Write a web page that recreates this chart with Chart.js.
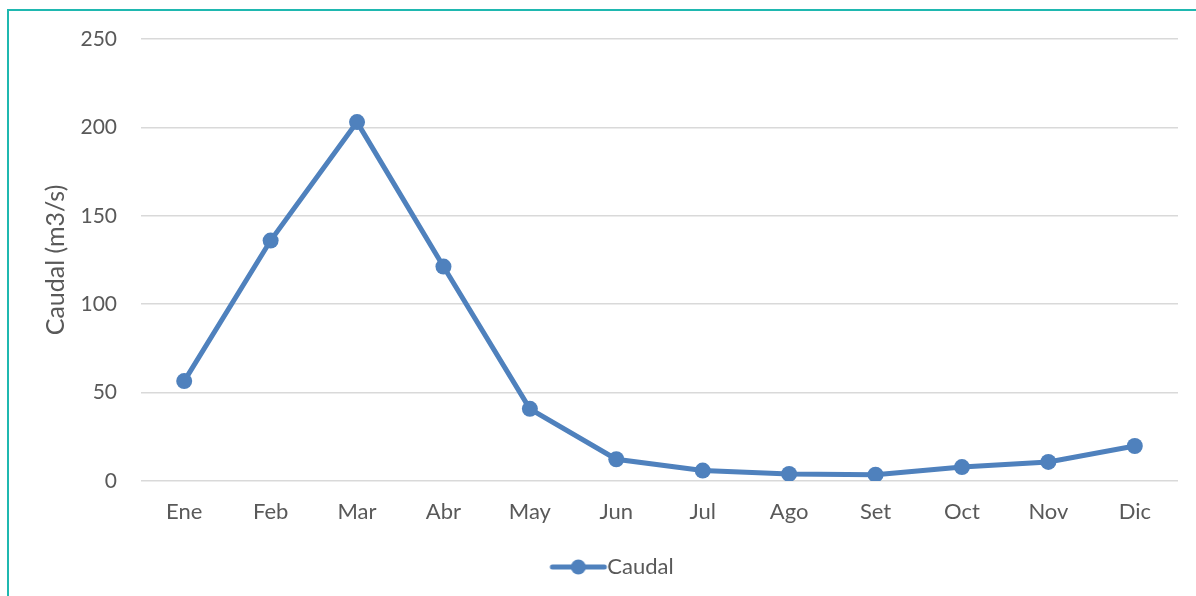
<!DOCTYPE html>
<html>
<head>
<meta charset="utf-8">
<script src="https://cdn.jsdelivr.net/npm/chart.js@4/dist/chart.umd.min.js"></script>
<style>
  html, body { margin: 0; padding: 0; background: #ffffff; }
  #wrap { position: relative; width: 1196px; height: 596px; overflow: hidden; }
  #frame { position: absolute; left: 7px; top: 9px; width: 1300px; height: 700px;
           border-left: 2px solid #1fb8b0; border-top: 2px solid #1fb8b0; box-sizing: border-box; pointer-events: none; }
  canvas { position: absolute; left: 0; top: 0; }
</style>
</head>
<body>
<div id="wrap">
  <canvas id="chart" width="1196" height="596"></canvas>
  <div id="frame"></div>
</div>
<script>
// Monthly mean discharge
const months = ['Ene', 'Feb', 'Mar', 'Abr', 'May', 'Jun', 'Jul', 'Ago', 'Set', 'Oct', 'Nov', 'Dic'];
const caudal = [56.5, 136, 203, 121.3, 40.8, 12.3, 5.9, 4.0, 3.6, 7.9, 10.8, 19.8];
const seriesName = 'Caudal';
const yTitle = 'Caudal (m3/s)';
const yTicks = [0, 50, 100, 150, 200, 250];

const blue = '#4f81bd';
const textGrey = '#595959';
const fontFamily = 'Lato, "Open Sans", sans-serif';

// legend marker: short line with a dot in the middle (left margin keeps the text close)
function legendMarker() {
  const c = document.createElement('canvas');
  c.width = 80; c.height = 18;
  const g = c.getContext('2d');
  g.strokeStyle = blue; g.lineWidth = 5; g.lineCap = 'round';
  g.beginPath(); g.moveTo(22, 9); g.lineTo(74, 9); g.stroke();
  g.fillStyle = blue;
  g.beginPath(); g.arc(48, 9, 7.5, 0, Math.PI * 2); g.fill();
  return c;
}
const marker = legendMarker();

new Chart(document.getElementById('chart'), {
  type: 'line',
  data: {
    labels: months,
    datasets: [{
      label: seriesName,
      data: caudal,
      borderColor: blue,
      backgroundColor: blue,
      borderWidth: 5,
      pointRadius: 8,
      pointBorderWidth: 0,
      pointBackgroundColor: blue,
      tension: 0,
      fill: false
    }]
  },
  options: {
    responsive: false,
    animation: false,
    layout: { padding: { left: 40, right: 18, top: 39, bottom: 8 } },
    scales: {
      x: {
        offset: true,
        grid: { display: false, drawTicks: false },
        border: { display: false },
        ticks: { color: textGrey, font: { family: fontFamily, size: 22 }, padding: 18, maxRotation: 0 },
        afterFit: s => { s.height = 67; }
      },
      y: {
        min: 0, max: 250,
        afterBuildTicks: s => { s.ticks = yTicks.map(v => ({ value: v })); },
        grid: { color: '#d9d9d9', lineWidth: 1.5, drawTicks: false },
        border: { display: false },
        ticks: { color: textGrey, font: { family: fontFamily, size: 21 }, padding: 24 },
        title: { display: true, text: yTitle, color: textGrey, font: { family: fontFamily, size: 25 }, padding: { top: 1, bottom: 0 } },
        afterFit: s => { s.width = 101; }
      }
    },
    plugins: {
      tooltip: { enabled: false },
      legend: {
        position: 'bottom',
        labels: {
          color: textGrey,
          font: { family: fontFamily, size: 22 },
          usePointStyle: true,
          pointStyleWidth: 52,
          boxHeight: 18,
          padding: 8,
          generateLabels: chart => chart.data.datasets.map((ds, i) => ({
            text: ds.label,
            pointStyle: marker,
            fillStyle: blue,
            strokeStyle: blue,
            lineWidth: 0,
            fontColor: textGrey,
            hidden: false,
            datasetIndex: i
          }))
        }
      }
    }
  }
});
</script>
</body>
</html>
